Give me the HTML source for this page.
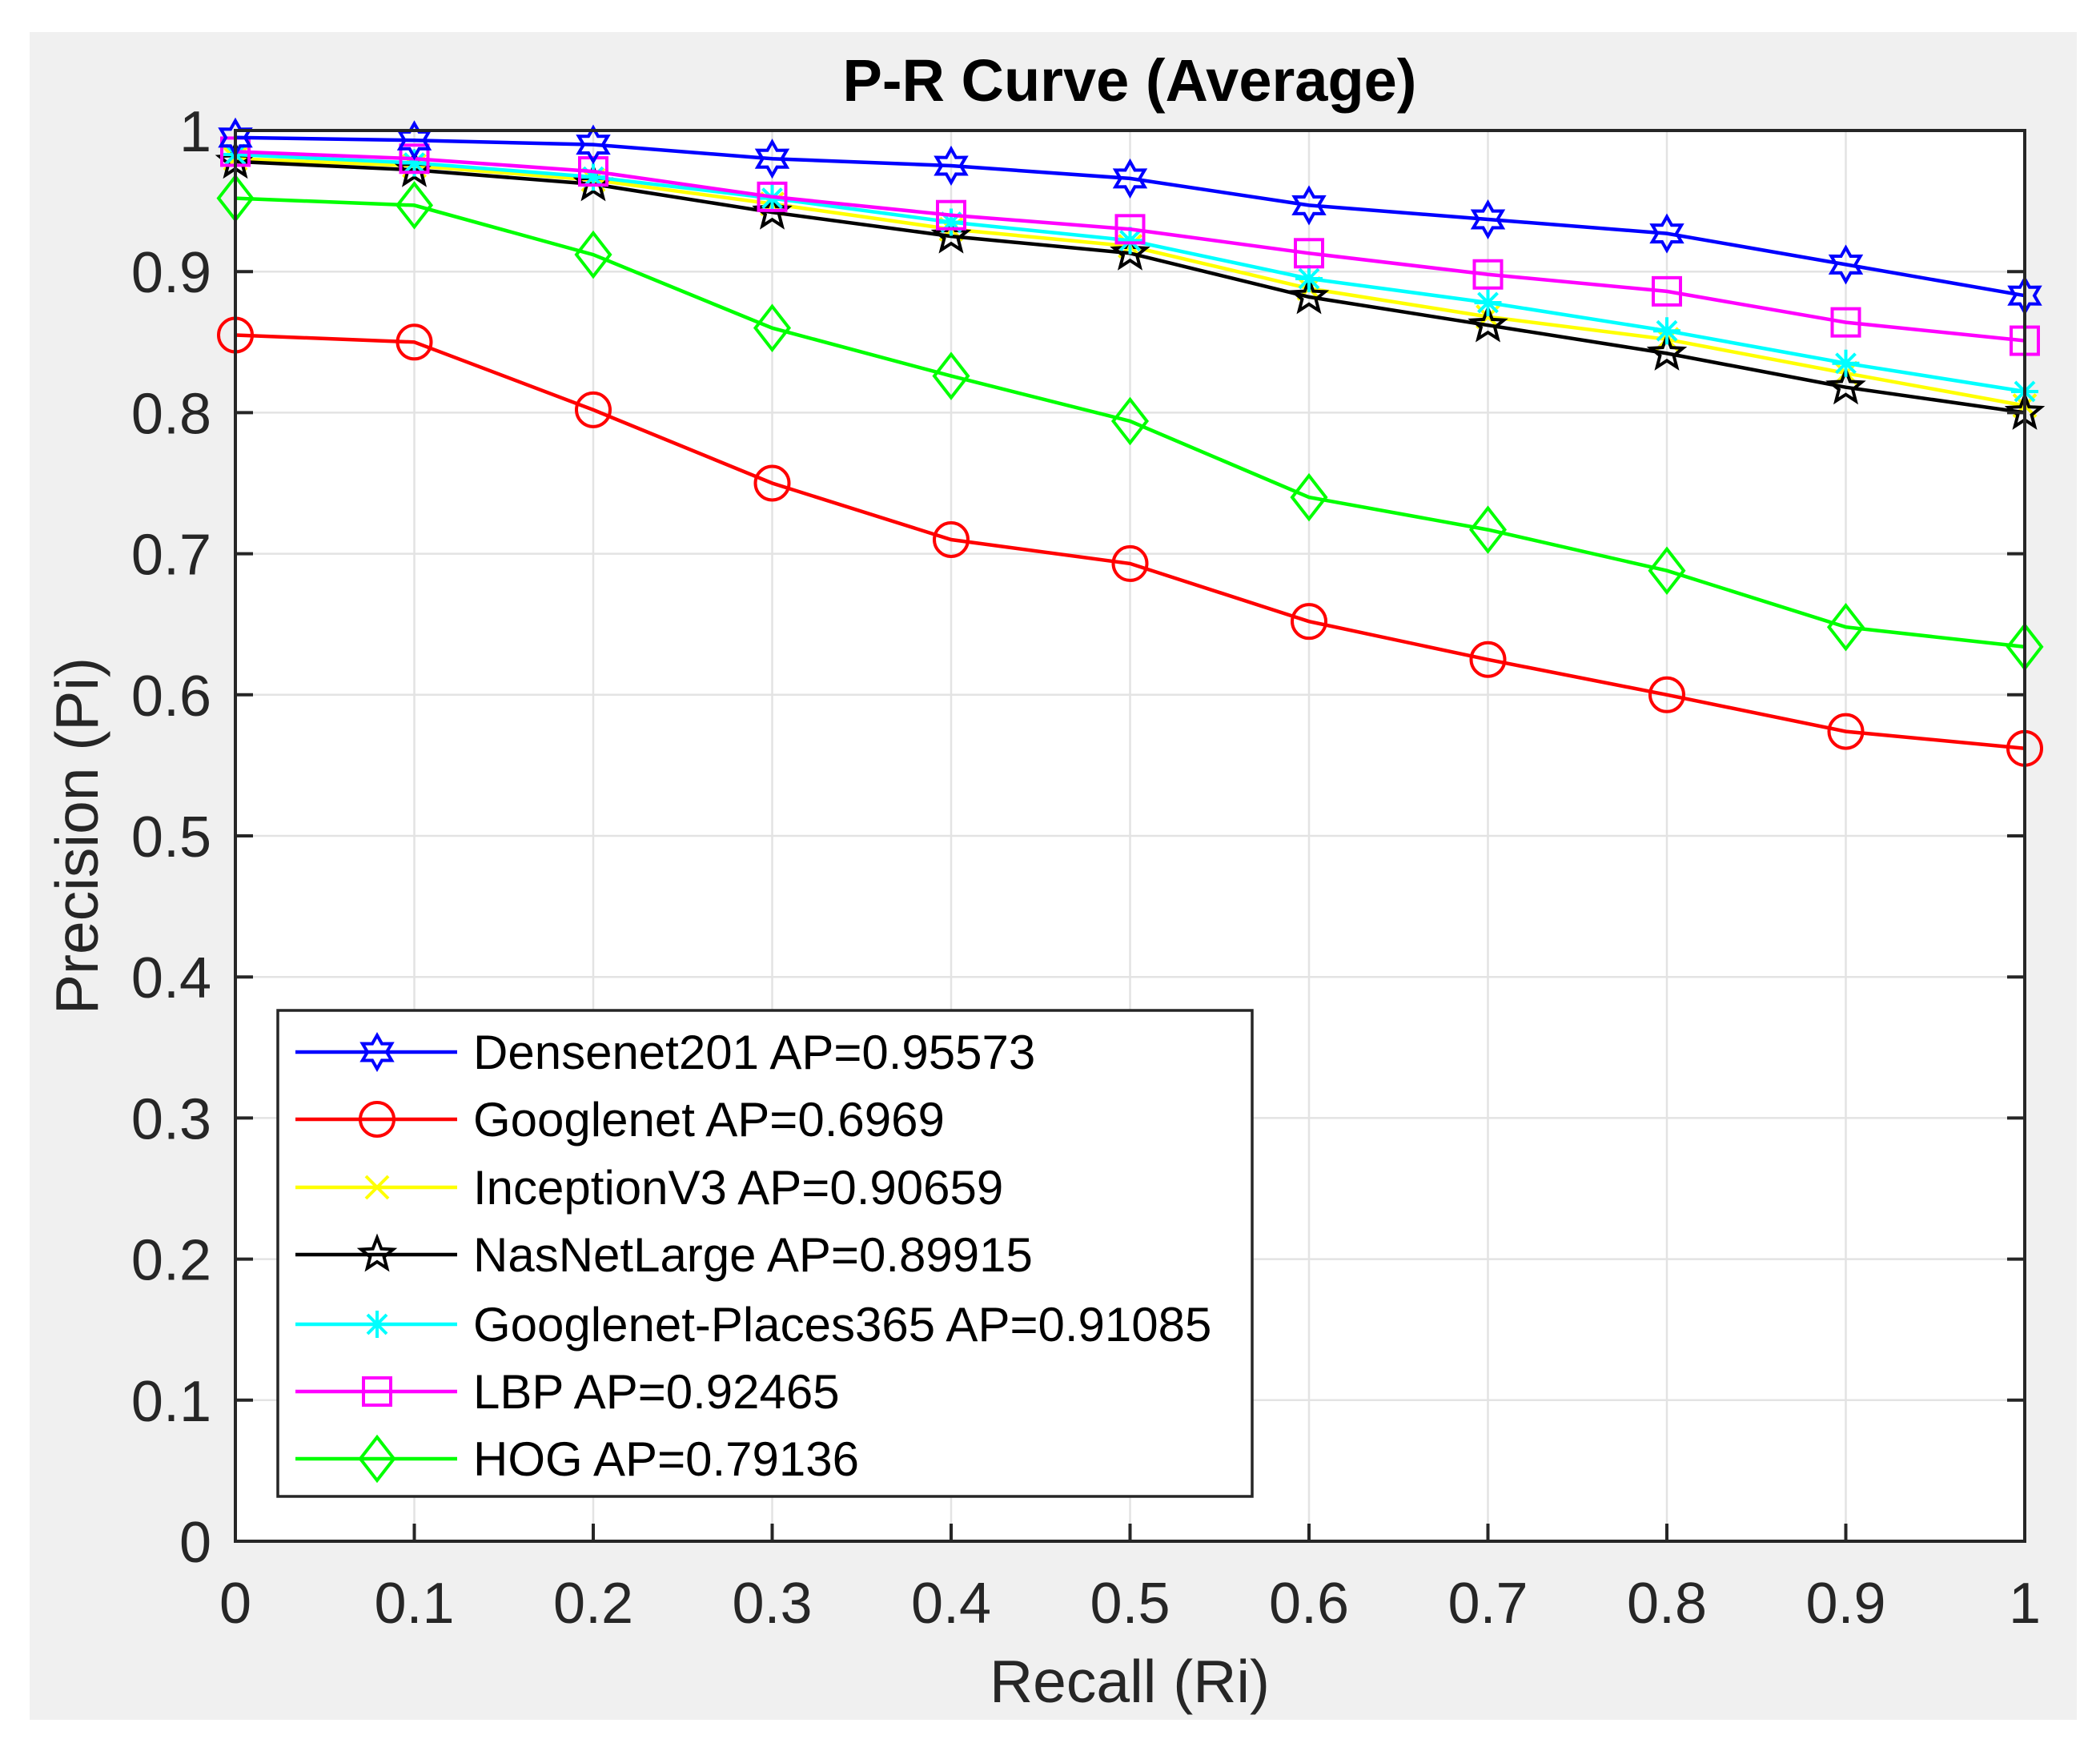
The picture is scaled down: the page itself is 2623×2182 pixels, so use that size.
<!DOCTYPE html>
<html><head><meta charset="utf-8"><style>
html,body{margin:0;padding:0;background:#fff;}
svg{display:block;font-family:"Liberation Sans",Arial,sans-serif;}
</style></head><body>
<svg id="chart" width="2623" height="2182" viewBox="0 0 2623 2182" xmlns="http://www.w3.org/2000/svg">
<rect x="37" y="40" width="2557" height="2108" fill="#f0f0f0"/>
<rect x="294" y="163" width="2235" height="1762" fill="#fff"/>
<g id="grid"></g>
<g id="series"></g>
<rect x="294" y="163" width="2235" height="1762" fill="none" stroke="#262626" stroke-width="4"/>
<g id="ticks"></g>
<text x="1411" y="126" text-anchor="middle" font-size="74" font-weight="bold" fill="#000">P-R Curve (Average)</text>
<text x="1411" y="2126" text-anchor="middle" font-size="75" fill="#262626">Recall (Ri)</text>
<text transform="translate(122,1044) rotate(-90)" text-anchor="middle" font-size="75" fill="#262626">Precision (Pi)</text>
<g id="legend">
<rect x="347" y="1262" width="1217" height="607" fill="#fff" stroke="#262626" stroke-width="3.5"/>
</g>
</svg>
<script>
const recall = [0,0.1,0.2,0.3,0.4,0.5,0.6,0.7,0.8,0.9,1];
const xTicks = ["0","0.1","0.2","0.3","0.4","0.5","0.6","0.7","0.8","0.9","1"];
const yTicks = ["0","0.1","0.2","0.3","0.4","0.5","0.6","0.7","0.8","0.9","1"];
const seriesNames = ["Densenet201 AP=0.95573","Googlenet AP=0.6969","InceptionV3 AP=0.90659","NasNetLarge AP=0.89915","Googlenet-Places365 AP=0.91085","LBP AP=0.92465","HOG AP=0.79136"];
const densenet = [0.995,0.993,0.99,0.98,0.975,0.966,0.947,0.937,0.927,0.905,0.883];
const googlenet = [0.855,0.85,0.802,0.75,0.71,0.693,0.652,0.625,0.6,0.574,0.562];
const inception = [0.98,0.975,0.965,0.948,0.93,0.918,0.888,0.868,0.852,0.828,0.805];
const nasnet = [0.978,0.972,0.962,0.942,0.925,0.913,0.882,0.862,0.842,0.818,0.8];
const places = [0.983,0.977,0.967,0.952,0.935,0.922,0.895,0.878,0.858,0.835,0.815];
const lbp = [0.985,0.98,0.971,0.953,0.94,0.93,0.913,0.898,0.886,0.864,0.851];
const hog = [0.952,0.947,0.912,0.86,0.826,0.794,0.74,0.717,0.688,0.648,0.634];

const X0=294,X1=2529,Y0=1925,Y1=163;
const xs = v => X0 + v*(X1-X0);
const ys = v => Y0 - v*(Y0-Y1);
const NS="http://www.w3.org/2000/svg";
function mk(tag, attrs, parent){const e=document.createElementNS(NS,tag);for(const k in attrs)e.setAttribute(k,attrs[k]);parent.appendChild(e);return e;}

const grid=document.getElementById('grid'), ticks=document.getElementById('ticks');
xTicks.forEach((t,i)=>{const v=parseFloat(t);const x=xs(v);
  const g=mk('line',{x1:x,x2:x,y1:Y1,y2:Y0,stroke:'#e3e3e3','stroke-width':2.5},grid);
  
  
  const tk=mk('line',{x1:x,x2:x,y1:Y0,y2:Y0-22,stroke:'#262626','stroke-width':4},ticks);
  
  
  const tx=mk('text',{x:x,y:2027,'text-anchor':'middle','font-size':72,fill:'#262626'},ticks);
  tx.textContent=t;
  
  
});
yTicks.forEach((t,i)=>{const v=parseFloat(t);const y=ys(v);
  const g=mk('line',{x1:X0,x2:X1,y1:y,y2:y,stroke:'#e3e3e3','stroke-width':2.5},grid);
  
  
  const tk=mk('line',{x1:X0,x2:X0+22,y1:y,y2:y,stroke:'#262626','stroke-width':4},ticks);
  
  
  const tk2=mk('line',{x1:X1,x2:X1-22,y1:y,y2:y,stroke:'#262626','stroke-width':4},ticks);
  
  
  const tx=mk('text',{x:264,y:y+26,'text-anchor':'end','font-size':72,fill:'#262626'},ticks);
  tx.textContent=t;
  
  
});

function starPts(cx,cy,n,ro,ri){let p=[];for(let k=0;k<2*n;k++){const r=k%2?ri:ro;const a=-Math.PI/2+k*Math.PI/n;p.push((cx+r*Math.cos(a)).toFixed(1)+','+(cy+r*Math.sin(a)).toFixed(1));}return p.join(' ');}
function marker(type,cx,cy,color,parent){
  const a={fill:'none',stroke:color,'stroke-width':4};
  let e;
  if(type==='hex'){e=mk('polygon',Object.assign({points:starPts(cx,cy,6,21,12)},a),parent);}
  else if(type==='circle'){e=mk('ellipse',Object.assign({cx:cx,cy:cy,rx:21,ry:21},a),parent);}
  else if(type==='x'){e=mk('path',Object.assign({d:`M${cx-14},${cy-14}L${cx+14},${cy+14}M${cx-14},${cy+14}L${cx+14},${cy-14}`},a),parent);}
  else if(type==='pent'){e=mk('polygon',Object.assign({points:starPts(cx,cy,5,21,9)},a),parent);}
  else if(type==='ast'){e=mk('path',Object.assign({d:`M${cx-17},${cy}L${cx+17},${cy}M${cx},${cy-17}L${cx},${cy+17}M${cx-12},${cy-12}L${cx+12},${cy+12}M${cx-12},${cy+12}L${cx+12},${cy-12}`},a),parent);}
  else if(type==='square'){e=mk('rect',Object.assign({x:cx-17,y:cy-17,width:34,height:34},a),parent);}
  else if(type==='diamond'){e=mk('polygon',Object.assign({points:`${cx},${cy-27} ${cx+21},${cy} ${cx},${cy+27} ${cx-21},${cy}`},a),parent);}
  return e;
}

const seriesData=[densenet,googlenet,inception,nasnet,places,lbp,hog];
const colors=['#0000ff','#ff0000','#ffff00','#000000','#00ffff','#ff00ff','#00ff00'];
const markers=['hex','circle','x','pent','ast','square','diamond'];
const keys=['densenet','googlenet','inception','nasnet','places','lbp','hog'];
const order=[1,6,2,3,4,5,0];
const sg=document.getElementById('series');
order.forEach(i=>{
  const g=mk('g',{},sg);
  
  
  const pts=seriesData[i].map((v,j)=>xs(recall[j]).toFixed(1)+','+ys(v).toFixed(1)).join(' ');
  const pl=mk('polyline',{points:pts,fill:'none',stroke:colors[i],'stroke-width':4.5},g);
  
  
  seriesData[i].forEach((v,j)=>{
    const m=marker(markers[i],xs(recall[j]),ys(v),colors[i],g);
    
    
  });
});

const lg=document.getElementById('legend');
const legY=[1314,1398,1483,1567,1654,1738,1822];
seriesNames.forEach((n,i)=>{
  const g=mk('g',{},lg);
  
  
  const y=legY[i];
  mk('line',{x1:369,x2:571,y1:y,y2:y,stroke:colors[i],'stroke-width':4.5},g);
  marker(markers[i],471,y,colors[i],g);
  const t=mk('text',{x:591,y:y+21,'font-size':60,fill:'#000'},g);
  t.textContent=n;
  
  
});
</script>
</body></html>
